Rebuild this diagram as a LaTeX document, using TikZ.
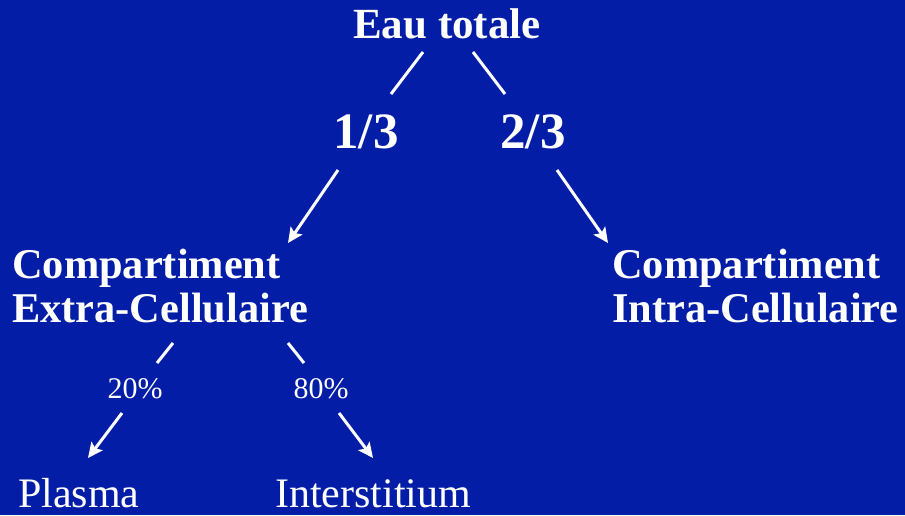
\documentclass[tikz,border=0pt]{standalone}
\usepackage{fontspec}
\setmainfont{Liberation Serif}
\usetikzlibrary{arrows.meta}
\definecolor{bgblue}{RGB}{3,29,166}
\begin{document}
\begin{tikzpicture}[x=1pt,y=-1pt,
  lbl/.style={text=white,inner sep=0pt},
  big/.style={lbl,font=\bfseries\fontsize{43}{44}\selectfont},
  comp/.style={lbl,font=\bfseries\fontsize{42.4}{44}\selectfont},
  huge/.style={lbl,font=\bfseries\fontsize{51}{53}\selectfont},
  small/.style={lbl,font=\fontsize{30}{32}\selectfont},
  leaf/.style={lbl,font=\fontsize{42}{43}\selectfont},
  conn/.style={white,line width=3pt},
  arr/.style={conn,-{Stealth[length=15pt,width=14pt,inset=3pt]}}]
\fill[bgblue] (0,0) rectangle (905,515);
\useasboundingbox (0,0) rectangle (905,515);

\node[big,anchor=base] (eau) at (447,38) {Eau totale};
\node[huge,anchor=base] (t1) at (366,148) {1/3};
\node[huge,anchor=base] (t2) at (533,148) {2/3};
\node[comp,anchor=base west,align=left] (ec) at (12,322) {Compartiment\\Extra-Cellulaire};
\node[comp,anchor=base west,align=left] (ic) at (612,322) {Compartiment\\Intra-Cellulaire};
\node[small,anchor=base] (p20) at (135,398) {20\%};
\node[small,anchor=base] (p80) at (321,398) {80\%};
\node[leaf,anchor=base west] (plasma) at (18,507) {Plasma};
\node[leaf,anchor=base west] (inter) at (275,507) {Interstitium};

\coordinate (a1) at (423,52); \coordinate (a2) at (391,94);
\coordinate (b1) at (473,52); \coordinate (b2) at (505,94);
\coordinate (c1) at (338,170); \coordinate (c2) at (288,243);
\coordinate (d1) at (557,170); \coordinate (d2) at (608,243);
\coordinate (e1) at (173,343); \coordinate (e2) at (157,363);
\coordinate (f1) at (288,343); \coordinate (f2) at (304,363);
\coordinate (g1) at (122,413); \coordinate (g2) at (88,458);
\coordinate (h1) at (339,413); \coordinate (h2) at (373,458);

\draw[conn] (a1) -- (a2);
\draw[conn] (b1) -- (b2);
\draw[arr] (c1) -- (c2);
\draw[arr] (d1) -- (d2);
\draw[conn] (e1) -- (e2);
\draw[conn] (f1) -- (f2);
\draw[arr] (g1) -- (g2);
\draw[arr] (h1) -- (h2);
\end{tikzpicture}
\end{document}
